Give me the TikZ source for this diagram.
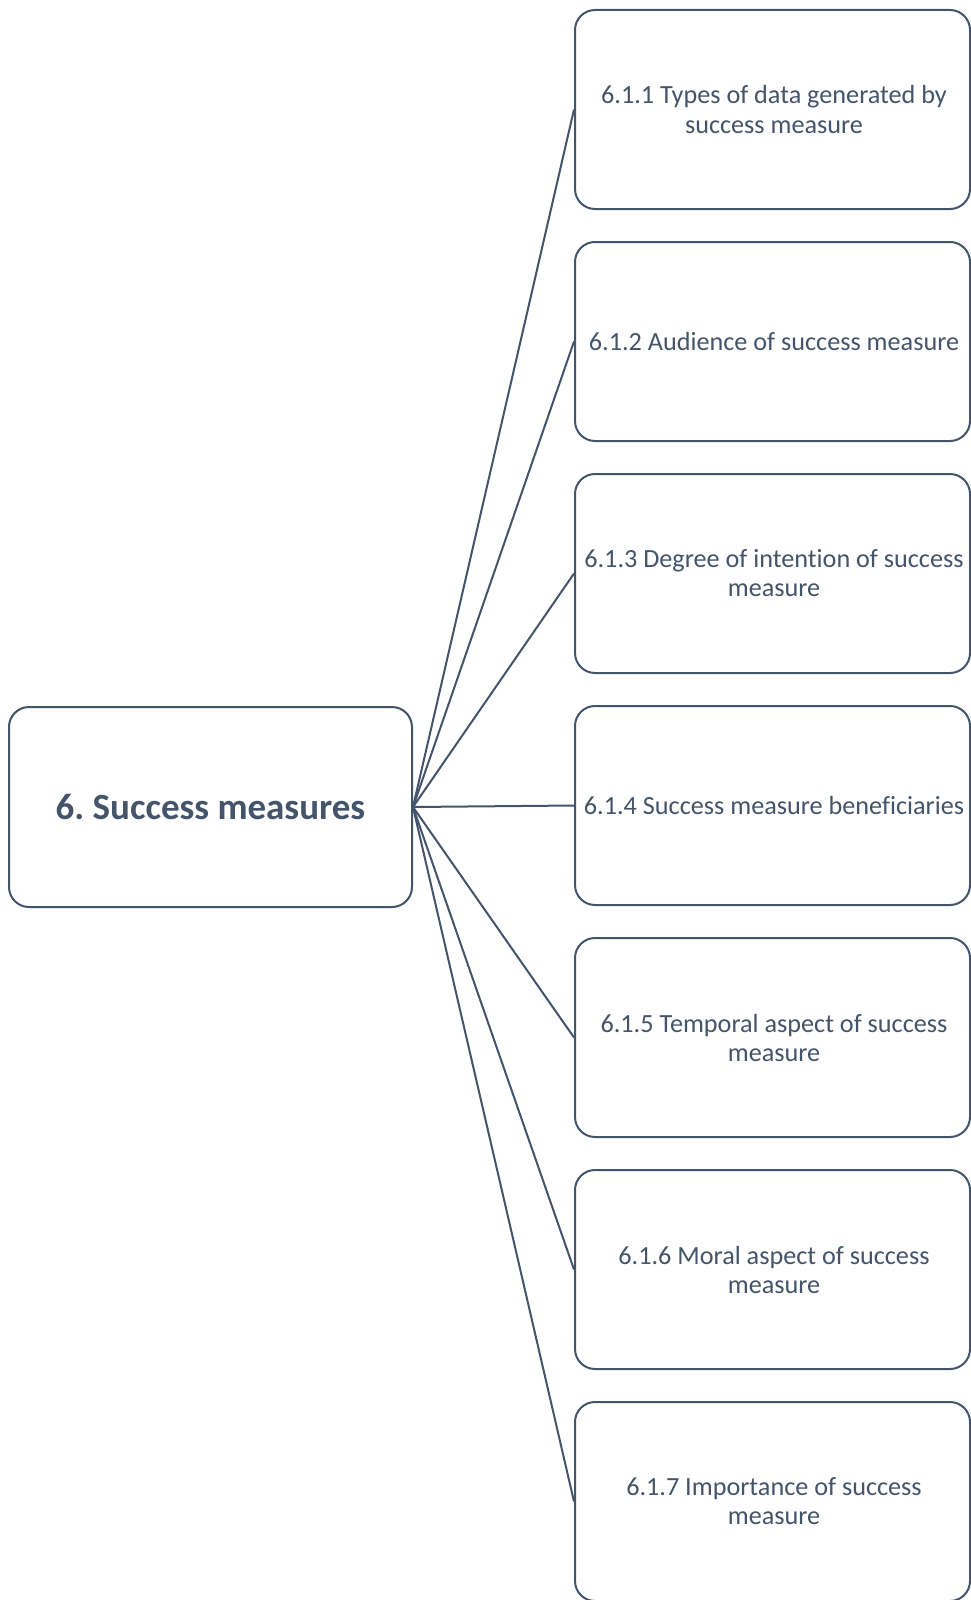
\documentclass[tikz,border=0pt]{standalone}
\usepackage{fontspec}
\setmainfont{Carlito}[Ligatures=NoCommon]
\definecolor{slate}{HTML}{44546A}
\frenchspacing
\begin{document}
\begin{tikzpicture}[x=1pt,y=-1pt,
  rootbox/.style={draw=slate,line width=2pt,rounded corners=20pt,fill=white,
    minimum width=403pt,minimum height=200pt,inner sep=0pt,
    text=slate,font=\fontsize{37}{44}\selectfont\bfseries},
  leafbox/.style={draw=slate,line width=2pt,rounded corners=20pt,fill=white,
    minimum width=395pt,minimum height=199pt,inner sep=0pt},
  leaftext/.style={text=slate,align=center,inner sep=0pt,
    font=\fontsize{26.2}{29}\selectfont},
  link/.style={draw=slate,line width=2pt}]
\useasboundingbox (0,0) rectangle (971,1600);
\begin{scope}
\clip (0,0) rectangle (971,1600);
\node[rootbox] (root) at (210.5,807) {6. Success measures};
\foreach \i/\t in {1/{6.1.1 Types of data generated by\\success measure},
                   2/{6.1.2 Audience of success measure},
                   3/{6.1.3 Degree of intention of success\\measure},
                   4/{6.1.4 Success measure beneficiaries},
                   5/{6.1.5 Temporal aspect of success\\measure},
                   6/{6.1.6 Moral aspect of success\\measure},
                   7/{6.1.7 Importance of success\\measure}}{
  \node[leafbox] (c\i) at (772.5,{109.5+232*(\i-1)}) {};
  \node[leaftext] (t\i) at ([xshift=1.5pt]c\i.center) {\t};
  \draw[link] (root.east) -- (c\i.west);
}
\end{scope}
\end{tikzpicture}
\end{document}
